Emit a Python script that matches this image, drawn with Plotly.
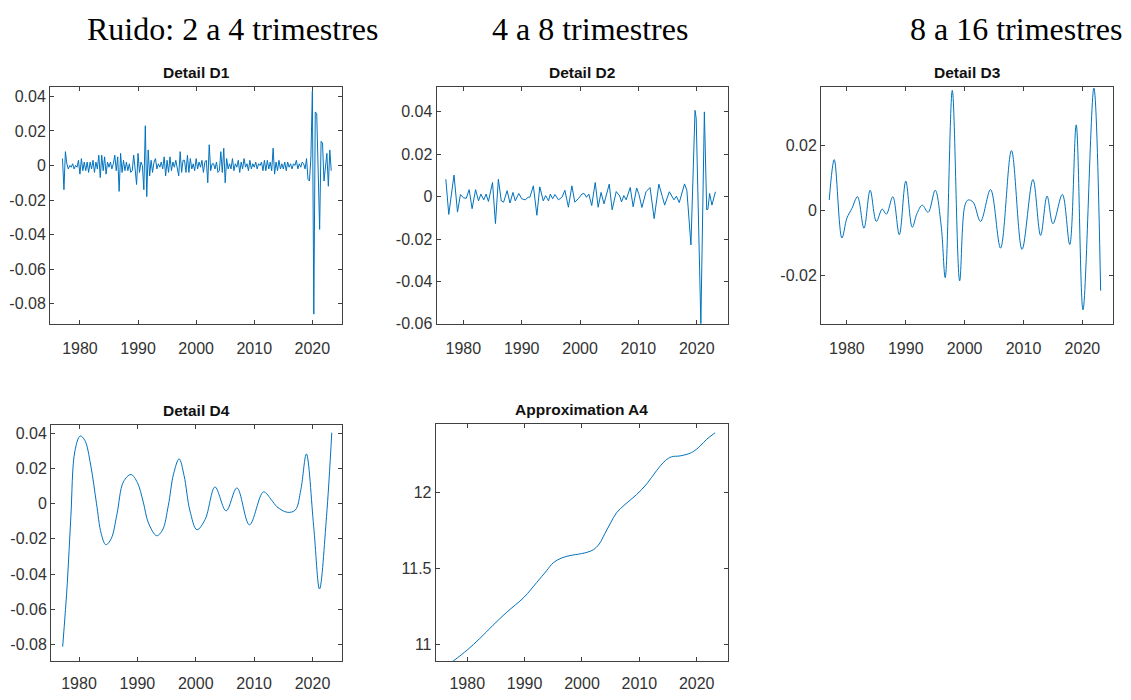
import plotly.graph_objects as go

# ---------------- data ----------------
# quarterly time axis 1977Q1 .. 2023Q2
quarters = [1977 + 0.25 * i for i in range(186)]

d1_values = [
    0.004, -0.014, 0.008, 0.001,     # 1977
    -0.002, 0.000, -0.001, 0.001,    # 1978
    -0.002, 0.000, -0.001, 0.003,    # 1979
    -0.005, 0.004, -0.003, 0.002,    # 1980
    -0.003, 0.002, -0.004, 0.002,    # 1981
    -0.002, 0.003, -0.004, 0.002,    # 1982
    -0.002, 0.006, -0.007, 0.006,    # 1983
    -0.003, 0.005, -0.005, 0.002,    # 1984
    -0.001, 0.002, -0.002, 0.001,    # 1985
    0.006, -0.003, 0.005, -0.015,    # 1986
    0.007, -0.004, 0.003, -0.003,    # 1987
    0.002, -0.003, 0.001, -0.004,    # 1988
    -0.003, 0.006, -0.002, -0.011,   # 1989
    0.007, -0.004, 0.002, 0.000,     # 1990
    -0.014, 0.023, -0.018, 0.009,    # 1991
    -0.006, 0.003, -0.004, 0.002,    # 1992
    0.004, -0.002, 0.001, -0.001,    # 1993
    0.002, -0.002, 0.005, -0.006,    # 1994
    0.003, -0.004, 0.005, -0.003,    # 1995
    0.002, -0.001, 0.003, -0.003,    # 1996
    -0.006, 0.008, -0.004, 0.003,    # 1997
    0.003, -0.004, 0.006, -0.004,    # 1998
    0.004, -0.002, 0.001, -0.003,    # 1999
    0.004, -0.002, 0.002, -0.001,    # 2000
    0.003, -0.004, 0.002, 0.003,     # 2001
    -0.010, 0.012, -0.003, 0.001,    # 2002
    0.001, -0.002, 0.002, -0.004,    # 2003
    -0.003, 0.008, -0.004, 0.010,    # 2004
    -0.010, 0.004, -0.002, 0.001,    # 2005
    -0.002, 0.004, -0.003, 0.001,    # 2006
    -0.001, 0.003, -0.004, 0.002,    # 2007
    -0.002, 0.004, -0.001, 0.001,    # 2008
    -0.003, 0.003, -0.002, 0.001,    # 2009
    -0.001, 0.002, -0.002, 0.001,    # 2010
    0.000, 0.002, -0.003, 0.003,     # 2011
    -0.003, 0.003, -0.002, 0.002,    # 2012
    -0.003, 0.010, -0.005, 0.002,    # 2013
    -0.003, 0.003, -0.002, 0.001,    # 2014
    -0.002, 0.002, -0.003, 0.002,    # 2015
    -0.001, 0.001, -0.002, 0.001,    # 2016
    0.000, 0.003, -0.002, 0.001,     # 2017
    -0.001, 0.002, 0.001, -0.002,    # 2018
    0.004, -0.008, -0.009, 0.005,    # 2019
    0.043, -0.086, 0.031, 0.030,     # 2020
    -0.005, -0.037, 0.014, 0.013,    # 2021
    -0.009, -0.002, 0.007, -0.012,   # 2022
    0.009, -0.003,                   # 2023
]

d2_years = [
    1977.0, 1977.5, 1978.4, 1979.0, 1979.5, 1980.0, 1980.5, 1981.0, 1981.5, 1982.1,
    1982.6, 1983.0, 1983.5, 1983.9, 1984.3, 1985.0, 1985.5, 1986.0, 1986.5, 1986.9,
    1987.5, 1988.0, 1988.5, 1988.9, 1989.5, 1990.0, 1990.6, 1991.1, 1991.4, 1992.0,
    1992.6, 1993.1, 1993.7, 1994.1, 1994.6, 1994.9, 1995.3, 1995.7, 1996.3, 1996.9,
    1997.4, 1998.0, 1998.6, 1999.1, 1999.7, 2000.3, 2000.7, 2001.1, 2001.5, 2002.0,
    2002.6, 2003.1, 2003.6, 2004.1, 2005.0, 2005.5, 2006.2, 2006.8, 2007.1, 2007.5,
    2007.9, 2008.6, 2009.1, 2009.7, 2010.1, 2010.6, 2011.3, 2012.0, 2012.7, 2013.5,
    2014.1, 2014.5, 2015.3, 2015.8, 2016.1, 2016.5, 2017.0, 2017.9, 2018.3, 2019.0,
    2019.7, 2019.9, 2020.7, 2021.3, 2021.7, 2021.9, 2022.2, 2022.6, 2023.2,
]
d2_values = [
    0.0082, -0.0084, 0.0102, -0.0073, 0.0010, -0.0005, -0.0008, 0.0033, -0.0057, 0.0033,
    -0.0020, 0.0012, -0.0015, 0.0012, -0.0023, 0.0067, -0.0127, 0.0082, -0.0020, -0.0026,
    0.0028, -0.0030, 0.0020, -0.0020, 0.0015, -0.0010, -0.0015, -0.0003, -0.0003, 0.0051,
    -0.0088, 0.0046, -0.0020, 0.0005, -0.0020, 0.0012, -0.0010, 0.0010, -0.0015, -0.0003,
    0.0030, -0.0050, 0.0051, -0.0026, -0.0010, 0.0012, 0.0015, -0.0003, 0.0012, -0.0042,
    0.0067, -0.0050, 0.0020, -0.0034, 0.0059, -0.0062, 0.0024, 0.0003, -0.0025, 0.0005,
    -0.0015, 0.0043, -0.0048, 0.0041, 0.0010, -0.0051, 0.0023, 0.0043, -0.0104, 0.0059,
    0.0000, -0.0040, 0.0023, 0.0000, -0.0015, 0.0002, -0.0028, 0.0060, 0.0030, -0.0228,
    0.0407, 0.0370, -0.0600, 0.0400, -0.0062, -0.0060, 0.0015, -0.0040, 0.0023,
]

d3_years = [
    1977.0, 1977.85, 1979.15, 1980.0, 1980.85, 1981.8, 1982.9, 1983.95, 1985.0, 1986.0,
    1986.7, 1987.8, 1988.9, 1990.0, 1991.1, 1991.9, 1992.8, 1993.8, 1995.0, 1996.0,
    1996.7, 1997.9, 1999.15, 2000.05, 2000.6, 2001.45, 2002.7, 2004.4, 2006.1, 2007.95,
    2009.75, 2011.6, 2012.9, 2014.0, 2015.0, 2016.6, 2017.85, 2018.95, 2020.1, 2021.95,
    2023.1,
]
d3_values = [
    0.0032, 0.0156, -0.0085, -0.0024, 0.0006, 0.0042, -0.0055, 0.0062, -0.0034, 0.0004,
    -0.0012, 0.0042, -0.0075, 0.0090, -0.0052, -0.0010, 0.0016, -0.0006, 0.0062, -0.0045,
    -0.0207, 0.0369, -0.0217, 0.0016, 0.0032, 0.0025, -0.0034, 0.0064, -0.0116, 0.0184,
    -0.0120, 0.0095, -0.0077, 0.0044, -0.0041, 0.0049, -0.0105, 0.0263, -0.0306, 0.0376,
    -0.0247,
]

d4_years = [
    1977.2, 1978.0, 1978.6, 1979.3, 1980.2, 1981.0, 1982.0, 1983.0, 1983.8, 1984.6,
    1985.5, 1986.5, 1987.6, 1988.9, 1990.0, 1991.0, 1991.9, 1993.3, 1994.3, 1995.3,
    1996.2, 1997.15, 1998.0, 1999.0, 2000.2, 2001.6, 2003.3, 2005.2, 2007.05, 2009.2,
    2011.6, 2013.0, 2013.9, 2015.7, 2017.05, 2018.0, 2018.95, 2020.2, 2021.2, 2022.4,
    2023.3,
]
d4_values = [
    -0.0813, -0.0450, -0.0073, 0.0301, 0.0385, 0.0360, 0.0220, 0.0000, -0.0170, -0.0233,
    -0.0200, -0.0060, 0.0124, 0.0166, 0.0120, 0.0010, -0.0110, -0.0182, -0.0150, -0.0010,
    0.0170, 0.0255, 0.0160, -0.0040, -0.0148, -0.0090, 0.0095, -0.0041, 0.0090, -0.0120,
    0.0067, 0.0020, -0.0017, -0.0049, -0.0036, 0.0080, 0.0283, -0.0129, -0.0485, -0.0073,
    0.0404,
]

a4_years = [
    1977.44, 1980.0, 1982.2, 1984.5, 1986.9, 1989.9, 1992.1, 1993.8, 1995.0, 1996.5,
    1997.9, 1999.9, 2001.0, 2002.0, 2003.0, 2004.0, 2005.0, 2006.0, 2007.5, 2009.5,
    2011.3, 2013.0, 2014.5, 2015.6, 2017.1, 2019.1, 2020.6, 2021.7, 2023.2,
]
a4_values = [
    10.887, 10.963, 11.039, 11.126, 11.212, 11.310, 11.407, 11.483, 11.537, 11.569,
    11.584, 11.597, 11.607, 11.623, 11.660, 11.730, 11.800, 11.865, 11.920, 11.985,
    12.056, 12.143, 12.208, 12.234, 12.240, 12.262, 12.305, 12.348, 12.392,
]

x_tickvals = [1980, 1990, 2000, 2010, 2020]
x_ticktext = ["1980", "1990", "2000", "2010", "2020"]

d1_tickvals = [-0.08, -0.06, -0.04, -0.02, 0, 0.02, 0.04]
d1_ticktext = ["-0.08", "-0.06", "-0.04", "-0.02", "0", "0.02", "0.04"]
d2_tickvals = [-0.06, -0.04, -0.02, 0, 0.02, 0.04]
d2_ticktext = ["-0.06", "-0.04", "-0.02", "0", "0.02", "0.04"]
d3_tickvals = [-0.02, 0, 0.02]
d3_ticktext = ["-0.02", "0", "0.02"]
d4_tickvals = [-0.08, -0.06, -0.04, -0.02, 0, 0.02, 0.04]
d4_ticktext = ["-0.08", "-0.06", "-0.04", "-0.02", "0", "0.02", "0.04"]
a4_tickvals = [11, 11.5, 12]
a4_ticktext = ["11", "11.5", "12"]

panel_titles = ["Detail D1", "Detail D2", "Detail D3", "Detail D4", "Approximation A4"]
headings = ["Ruido: 2 a 4 trimestres", "4 a 8 trimestres", "8 a 16 trimestres"]

# ---------------- figure ----------------
W, H = 1131, 700
LINE = "#0072BD"
AX = "#404040"
FONT = "Liberation Sans, Arial, Helvetica, sans-serif"

def px_x(a, b):
    return [a / W, b / W]

def px_y(top, bottom):
    return [(H - bottom) / H, (H - top) / H]

panels = [
    dict(xd=(50, 342), yd=(88, 328), xr=[1974.85, 2025.1], yr=[-0.0916, 0.0455],
         tv=d1_tickvals, tt=d1_ticktext, so=10),
    dict(xd=(436.5, 727.7), yd=(88, 328), xr=[1975.4, 2025.3], yr=[-0.0600, 0.0518],
         tv=d2_tickvals, tt=d2_ticktext, so=10),
    dict(xd=(821, 1113), yd=(88, 328), xr=[1975.6, 2025.2], yr=[-0.0349, 0.0380],
         tv=d3_tickvals, tt=d3_ticktext, so=10),
    dict(xd=(51, 341.7), yd=(430.5, 670), xr=[1975.2, 2025.0], yr=[-0.0897, 0.0448],
         tv=d4_tickvals, tt=d4_ticktext, so=7),
    dict(xd=(435.7, 727.7), yd=(429.5, 670), xr=[1974.5, 2025.4], yr=[10.888, 12.45],
         tv=a4_tickvals, tt=a4_ticktext, so=7),
]

series = [
    (quarters, d1_values, "linear"),
    (d2_years, d2_values, "linear"),
    (d3_years, d3_values, "spline"),
    (d4_years, d4_values, "spline"),
    (a4_years, a4_values, "spline"),
]

fig = go.Figure()
layout = dict(
    width=W, height=H, margin=dict(l=0, r=0, t=0, b=0),
    paper_bgcolor="white", plot_bgcolor="white", showlegend=False,
)

common = dict(
    showline=True, linecolor=AX, linewidth=1, mirror="ticks",
    ticks="inside", ticklen=4, tickwidth=1, tickcolor=AX,
    showgrid=False, zeroline=False,
    tickfont=dict(family=FONT, size=16, color="#333333"),
)

annotations = []
for i, (p, (xs, ys, shape)) in enumerate(zip(panels, series)):
    n = "" if i == 0 else str(i + 1)
    fig.add_trace(go.Scatter(
        x=xs, y=ys, mode="lines",
        line=dict(color=LINE, width=1, shape=shape, smoothing=1.0),
        xaxis="x" + n, yaxis="y" + n, hoverinfo="skip",
    ))
    layout["xaxis" + n] = dict(
        domain=px_x(*p["xd"]), range=p["xr"], anchor="y" + n,
        tickvals=x_tickvals, ticktext=x_ticktext, ticklabelstandoff=p["so"], **common,
    )
    layout["yaxis" + n] = dict(
        domain=px_y(*p["yd"]), range=p["yr"], anchor="x" + n,
        tickvals=p["tv"], ticktext=p["tt"], **common,
    )
    cx = (p["xd"][0] + p["xd"][1]) / 2 / W
    ty = (H - (p["yd"][0] - 15)) / H
    annotations.append(dict(
        text="<b>" + panel_titles[i] + "</b>", x=cx, y=ty, xref="paper", yref="paper",
        xanchor="center", yanchor="middle", showarrow=False,
        font=dict(family=FONT, size=15.5, color="#111111"),
    ))

heading_left = [85, 490, 908]
for h, lx in zip(headings, heading_left):
    annotations.append(dict(
        text=h, x=lx / W, y=(H - 29) / H, xref="paper", yref="paper",
        xanchor="left", yanchor="middle", showarrow=False,
        font=dict(family="Liberation Serif, Times New Roman, serif", size=32, color="black"),
    ))

layout["annotations"] = annotations
fig.update_layout(**layout)
fig.write_html(
    "out.html",
    config={"displayModeBar": False},
    post_script="document.body.style.margin='0';document.body.style.overflow='hidden';",
)
